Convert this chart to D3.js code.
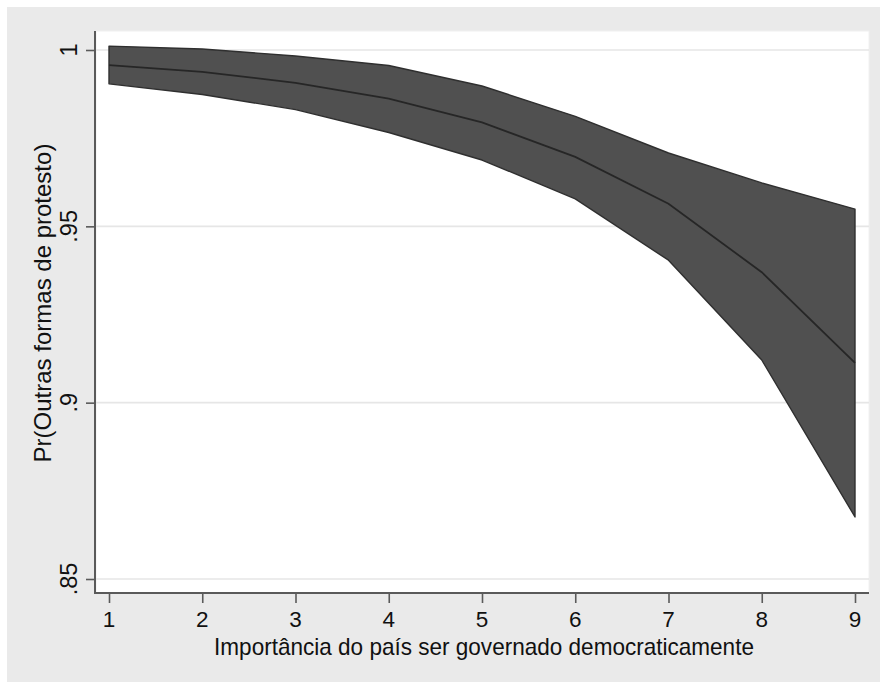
<!DOCTYPE html>
<html>
<head>
<meta charset="utf-8">
<script src="https://cdn.jsdelivr.net/npm/d3@7"></script>
<style>
  html, body { margin: 0; padding: 0; background: #ffffff; }
  svg { display: block; font-family: "Liberation Sans", Arial, sans-serif; }
</style>
</head>
<body>
<svg id="chart" width="880" height="682"></svg>
<script>
// Predicted probability with 95% confidence band, by importance level
const levels = [1, 2, 3, 4, 5, 6, 7, 8, 9];
const predicted = [0.9957, 0.9938, 0.9907, 0.9862, 0.9795, 0.9697, 0.9564, 0.9370, 0.9113];
const upperCI   = [1.0011, 1.0003, 0.9983, 0.9956, 0.9898, 0.9812, 0.9708, 0.9623, 0.9549];
const lowerCI   = [0.9904, 0.9874, 0.9831, 0.9766, 0.9688, 0.9578, 0.9404, 0.9121, 0.8676];
const yTicks = [0.85, 0.9, 0.95, 1];
const yTickLabels = [".85", ".9", ".95", "1"];
const xTitle = "Importância do país ser governado democraticamente";
const yTitle = "Pr(Outras formas de protesto)";

const svg = d3.select("#chart");

// graph region
svg.append("rect").attr("x", 7).attr("y", 7).attr("width", 873).attr("height", 675)
  .attr("fill", "#eaeaea");

const plot = { left: 96, right: 869, top: 31, bottom: 593 };

// plot region
svg.append("rect")
  .attr("x", plot.left).attr("y", plot.top)
  .attr("width", plot.right - plot.left).attr("height", plot.bottom - plot.top)
  .attr("fill", "#ffffff").attr("stroke", "#f0f0f0").attr("stroke-width", 1);

const x = d3.scaleLinear().domain([1, 9]).range([109, 855]);
const y = d3.scaleLinear().domain([0.85, 1]).range([579, 50]);

// horizontal grid lines
svg.append("g").selectAll("line").data(yTicks).join("line")
  .attr("x1", plot.left).attr("x2", plot.right)
  .attr("y1", d => y(d)).attr("y2", d => y(d))
  .attr("stroke", "#e6e6e6").attr("stroke-width", 1.6);

const rows = levels.map((v, i) => ({ x: v, p: predicted[i], lo: lowerCI[i], hi: upperCI[i] }));

// confidence band
const area = d3.area().x(d => x(d.x)).y0(d => y(d.lo)).y1(d => y(d.hi));
svg.append("path").datum(rows).attr("d", area)
  .attr("fill", "#505050").attr("stroke", "#2f2f2f").attr("stroke-width", 1.4)
  .attr("stroke-linejoin", "round");

// predicted line
const line = d3.line().x(d => x(d.x)).y(d => y(d.p));
svg.append("path").datum(rows).attr("d", line)
  .attr("fill", "none").attr("stroke", "#262626").attr("stroke-width", 1.8);

const axisColor = "#5a5a5a";

// y axis
const yAxis = d3.axisLeft(y).tickValues(yTicks).tickSize(9).tickPadding(0)
  .tickFormat((d, i) => yTickLabels[i]);
const gy = svg.append("g").attr("transform", `translate(${plot.left - 1},0)`).call(yAxis);
gy.select(".domain").remove();
gy.selectAll(".tick line").attr("stroke", axisColor).attr("stroke-width", 1.6);
gy.selectAll(".tick text").remove();
svg.append("line").attr("x1", plot.left - 1).attr("x2", plot.left - 1)
  .attr("y1", plot.top).attr("y2", plot.bottom)
  .attr("stroke", axisColor).attr("stroke-width", 2);
svg.append("g").selectAll("text").data(yTicks).join("text")
  .attr("transform", d => `translate(77,${y(d)}) rotate(-90)`)
  .attr("text-anchor", "middle")
  .attr("font-size", 23.5).attr("fill", "#111")
  .text((d, i) => yTickLabels[i]);

// x axis
const xAxis = d3.axisBottom(x).tickValues(levels).tickSize(10).tickFormat(d3.format("d"));
const gx = svg.append("g").attr("transform", `translate(0,${plot.bottom})`).call(xAxis);
gx.select(".domain").remove();
gx.selectAll(".tick line").attr("stroke", axisColor).attr("stroke-width", 1.6);
gx.selectAll(".tick text").remove();
svg.append("line").attr("x1", plot.left - 2).attr("x2", plot.right)
  .attr("y1", plot.bottom).attr("y2", plot.bottom)
  .attr("stroke", axisColor).attr("stroke-width", 2);
svg.append("g").selectAll("text").data(levels).join("text")
  .attr("x", d => x(d)).attr("y", 627)
  .attr("text-anchor", "middle")
  .attr("font-size", 22.5).attr("fill", "#111")
  .text(d => d);

// axis titles
svg.append("text").attr("transform", "translate(484,655) scale(0.98,1)")
  .attr("text-anchor", "middle").attr("font-size", 23).attr("fill", "#111")
  .text(xTitle);
svg.append("text").attr("transform", "translate(51,303) rotate(-90)")
  .attr("text-anchor", "middle").attr("font-size", 24).attr("fill", "#111")
  .text(yTitle);
</script>
</body>
</html>
